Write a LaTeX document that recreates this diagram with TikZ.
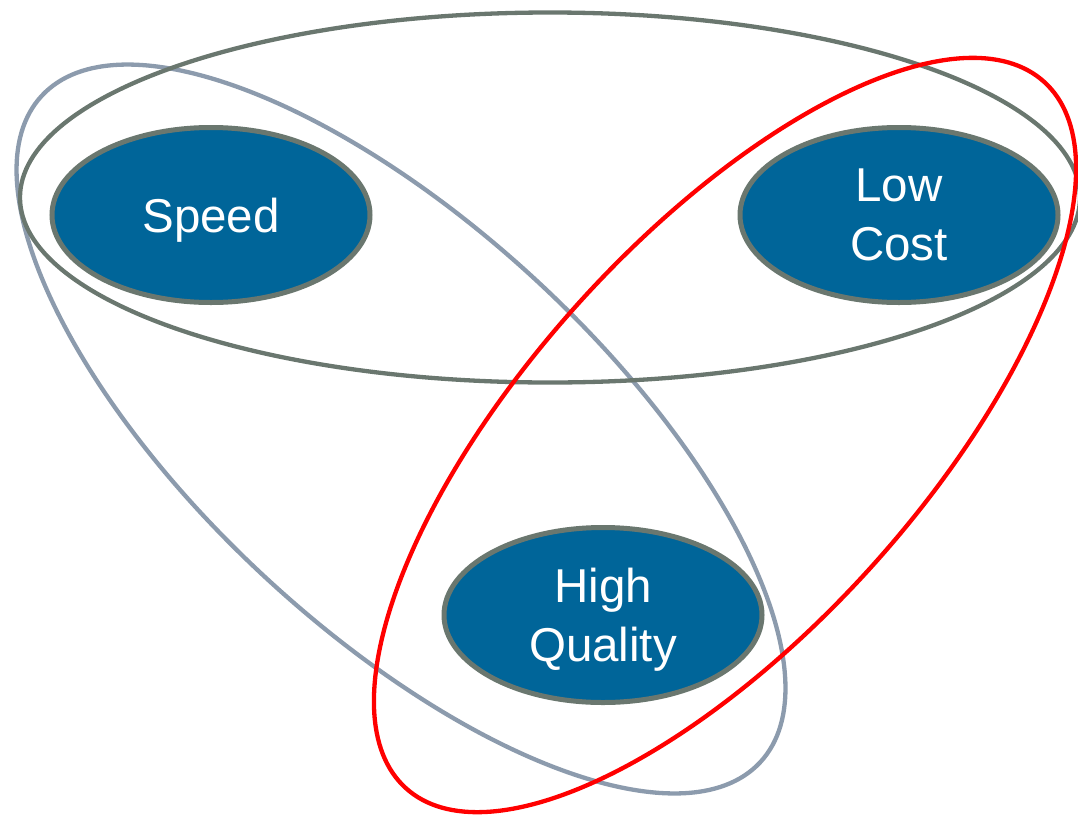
\documentclass[tikz,border=0pt]{standalone}
\usepackage{fontspec}
\setmainfont{Liberation Sans}
\usetikzlibrary{shapes.geometric}
\definecolor{boxblue}{RGB}{0,101,153}
\definecolor{rimgray}{RGB}{106,119,111}
\definecolor{slate}{RGB}{140,155,173}
\definecolor{hotred}{RGB}{255,0,0}
\begin{document}
\begin{tikzpicture}[x=1pt,y=-1pt,
  goal/.style={ellipse, draw=rimgray, line width=5pt, fill=boxblue, text=white,
    minimum width=318pt, minimum height=175pt, inner sep=0pt, align=center,
    text depth=0pt, font=\fontsize{47.5}{59}\selectfont},
  ring/.style={line width=4.3pt}]
\useasboundingbox (0,0) rectangle (1078,817);
\begin{scope}
\clip (0,0) rectangle (1078,817);
\draw[ring, slate, rotate around={-42.85:(401,429)}] (401,429) ellipse [x radius=490, y radius=201];
\draw[ring, rimgray] (550,197.5) ellipse [x radius=530, y radius=185];
\draw[ring, hotred, rotate around={47.9:(725,435)}] (725,435) ellipse [x radius=476, y radius=197];
\end{scope}
\node[goal] (speed) at (211,215) {Speed};
\node[goal] (lowcost) at (899,215) {Low\\Cost};
\node[goal] (quality) at (603,615) {High\\Quality};
\end{tikzpicture}
\end{document}
